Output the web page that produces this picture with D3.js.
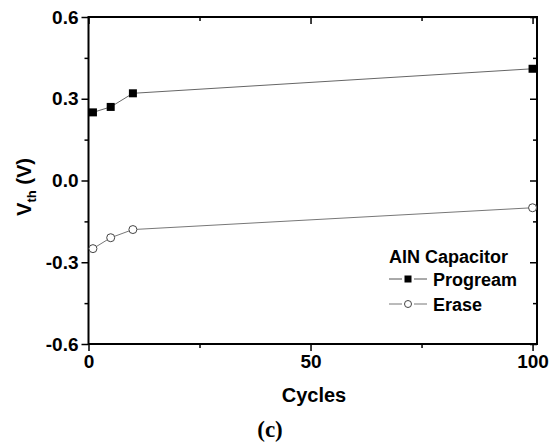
<!DOCTYPE html>
<html>
<head>
<meta charset="utf-8">
<script src="https://cdn.jsdelivr.net/npm/d3@7"></script>
<style>
  body { margin: 0; background: #fff; }
  text { font-family: "Liberation Sans", Arial, sans-serif; font-weight: bold; fill: #000; }
</style>
</head>
<body>
<script type="text/javascript">
    const Width = 559;
    const Height = 444;

    // data
    const cycles = [1, 5, 10, 100];
    const program = [0.25, 0.27, 0.32, 0.41];
    const erase = [-0.25, -0.21, -0.18, -0.10];
    const xTicks = [0, 50, 100];
    const xMinor = [25, 75];
    const yTicks = [-0.6, -0.3, 0.0, 0.3, 0.6];
    const yMinor = [-0.45, -0.15, 0.15, 0.45];

    const plotLeft = 88.5, plotRight = 537, plotTop = 17, plotBottom = 344;

    const svg = d3.select("body")
      .append("svg")
      .attr("width", Width)
      .attr("height", Height);

    const x = d3.scaleLinear().domain([0, 101]).range([plotLeft, plotRight]);
    const y = d3.scaleLinear().domain([-0.6, 0.6]).range([plotBottom, plotTop]);

    // plain hyphen for negatives, like the original
    const yFmt = d => d.toFixed(1);

    // bottom + left axes, ticks outward
    const gx = svg.append("g").attr("transform", "translate(0," + plotBottom + ")")
      .call(d3.axisBottom(x).tickValues(xTicks).tickSize(7).tickPadding(4).tickFormat(d3.format("d")));
    gx.append("g").call(d3.axisBottom(x).tickValues(xMinor).tickSize(4).tickFormat(""));

    const gy = svg.append("g").attr("transform", "translate(" + plotLeft + ",0)")
      .call(d3.axisLeft(y).tickValues(yTicks).tickSize(7).tickPadding(3).tickFormat(yFmt));
    gy.append("g").call(d3.axisLeft(y).tickValues(yMinor).tickSize(4).tickFormat(""));

    // top + right mirror, ticks inward
    const gt = svg.append("g").attr("transform", "translate(0," + plotTop + ")");
    gt.call(d3.axisBottom(x).tickValues(xTicks).tickSize(7).tickFormat(""));
    gt.append("g").call(d3.axisBottom(x).tickValues(xMinor).tickSize(4).tickFormat(""));
    const gr = svg.append("g").attr("transform", "translate(" + plotRight + ",0)");
    gr.call(d3.axisLeft(y).tickValues(yTicks).tickSize(7).tickFormat(""));
    gr.append("g").call(d3.axisLeft(y).tickValues(yMinor).tickSize(4).tickFormat(""));

    svg.selectAll(".domain").remove();
    svg.selectAll(".tick line").attr("stroke", "#000").attr("stroke-width", 1.5);
    svg.selectAll(".tick text").style("font-size", "19px").style("font-family", "Liberation Sans, Arial, sans-serif").style("font-weight", "bold");

    // frame
    svg.append("rect")
      .attr("x", plotLeft).attr("y", plotTop)
      .attr("width", plotRight - plotLeft).attr("height", plotBottom - plotTop)
      .attr("fill", "none").attr("stroke", "#000").attr("stroke-width", 2);

    const line = d3.line().x(d => x(d[0])).y(d => y(d[1]));
    const progPts = cycles.map((c, i) => [c, program[i]]);
    const erasePts = cycles.map((c, i) => [c, erase[i]]);

    svg.append("path").datum(progPts).attr("d", line)
      .attr("fill", "none").attr("stroke", "#666").attr("stroke-width", 1);
    svg.append("path").datum(erasePts).attr("d", line)
      .attr("fill", "none").attr("stroke", "#777").attr("stroke-width", 1);

    svg.selectAll("rect.prog").data(progPts).enter().append("rect")
      .attr("class", "prog")
      .attr("x", d => x(d[0]) - 4).attr("y", d => y(d[1]) - 4)
      .attr("width", 8).attr("height", 8).attr("fill", "#000");

    svg.selectAll("circle.erase").data(erasePts).enter().append("circle")
      .attr("class", "erase")
      .attr("cx", d => x(d[0])).attr("cy", d => y(d[1])).attr("r", 4)
      .attr("fill", "#fff").attr("stroke", "#444").attr("stroke-width", 1);

    // legend
    svg.append("text").attr("x", 389).attr("y", 263).style("font-size", "18px").text("AlN Capacitor");
    const legend = [
      { name: "Progream", yy: 279, sym: "square", color: "#555" },
      { name: "Erase", yy: 304, sym: "circle", color: "#777" }
    ];
    legend.forEach(function (l) {
      svg.append("line").attr("x1", 389).attr("x2", 402).attr("y1", l.yy).attr("y2", l.yy)
        .attr("stroke", l.color).attr("stroke-width", 1);
      svg.append("line").attr("x1", 414).attr("x2", 427).attr("y1", l.yy).attr("y2", l.yy)
        .attr("stroke", l.color).attr("stroke-width", 1);
      if (l.sym === "square") {
        svg.append("rect").attr("x", 404.5).attr("y", l.yy - 3.5).attr("width", 7).attr("height", 7).attr("fill", "#000");
      } else {
        svg.append("circle").attr("cx", 408).attr("cy", l.yy).attr("r", 3.5)
          .attr("fill", "#fff").attr("stroke", "#444");
      }
      svg.append("text").attr("x", 433).attr("y", l.yy + 6.5).style("font-size", "18px").text(l.name);
    });

    // axis titles
    svg.append("text").attr("x", 314).attr("y", 402).attr("text-anchor", "middle")
      .style("font-size", "20px").text("Cycles");

    const yl = svg.append("text")
      .attr("transform", "translate(31,187) rotate(-90)")
      .attr("text-anchor", "middle")
      .style("font-size", "20px");
    yl.append("tspan").text("V");
    yl.append("tspan").attr("dy", 5).style("font-size", "13px").text("th");
    yl.append("tspan").attr("dy", -5).text(" (V)");

    svg.append("text").attr("x", 270).attr("y", 437).attr("text-anchor", "middle")
      .style("font-family", "Liberation Serif, Times New Roman, serif")
      .style("font-size", "23px").text("(c)");
</script>
</body>
</html>
